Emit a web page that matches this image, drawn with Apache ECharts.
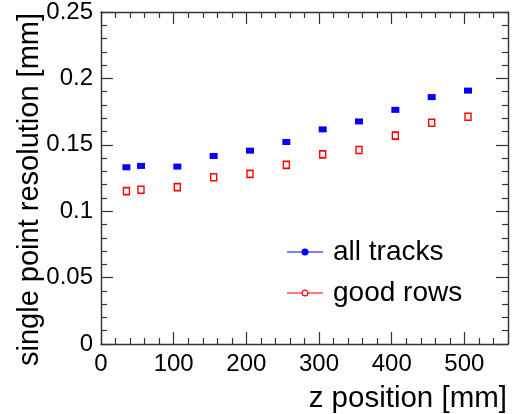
<!DOCTYPE html>
<html>
<head>
<meta charset="utf-8">
<script src="https://cdn.jsdelivr.net/npm/echarts@6/dist/echarts.min.js"></script>
<style>html,body{margin:0;padding:0;background:#fff}#c{width:514px;height:414px}</style>
</head>
<body>
<div id="c"></div>
<script>
var zPositions = [35, 55, 105, 155, 205, 255, 305, 355, 405, 455, 505];
var allTracks = [0.1331, 0.1341, 0.1336, 0.1416, 0.1456, 0.1521, 0.1616, 0.1676, 0.1763, 0.1859, 0.1908];
var goodRows = [0.1151, 0.1162, 0.1181, 0.1256, 0.1281, 0.1349, 0.1428, 0.1461, 0.1569, 0.1666, 0.1711];
var seriesNames = ['all tracks', 'good rows'];
var xTitle = 'z position [mm]';
var yTitle = 'single point resolution [mm]';

var FONT = '"Liberation Sans", Arial, Helvetica, sans-serif';
var AX = '#333';

function pairs(xs, ys) { return xs.map(function (x, i) { return [x, ys[i]]; }); }

var iconBlue = 'path://M0,3.4L15,3.4L15,4.6L0,4.6Z M21,3.4L36,3.4L36,4.6L21,4.6Z M18,0.5A3.5,3.5 0 1,1 18,7.5A3.5,3.5 0 1,1 18,0.5Z';
var iconRed = 'path://M0,3.4L14.6,3.4L14.6,4.6L0,4.6Z M21.4,3.4L36,3.4L36,4.6L21.4,4.6Z M18,0.5A3.5,3.5 0 1,1 18,7.5A3.5,3.5 0 1,1 18,0.5Z M18,1.7A2.3,2.3 0 1,0 18,6.3A2.3,2.3 0 1,0 18,1.7Z';

function axisCommon() {
  return {
    axisLine: { show: true, onZero: false, lineStyle: { color: AX, width: 1.4 } },
    axisTick: { show: true, inside: true, length: 12, lineStyle: { color: AX, width: 1.2 } },
    minorTick: { show: true, splitNumber: 5, length: 6, lineStyle: { color: AX, width: 1.2 } },
    splitLine: { show: false },
    minorSplitLine: { show: false }
  };
}

var chart = echarts.init(document.getElementById('c'), null, { renderer: 'canvas' });
var option = {
  animation: false,
  backgroundColor: '#fff',
  grid: { left: 101, top: 11, right: 6, bottom: 70, containLabel: false },
  legend: {
    orient: 'vertical',
    left: 287,
    top: 238,
    padding: 0,
    itemWidth: 36,
    itemHeight: 7,
    itemGap: 13,
    selectedMode: false,
    textStyle: { fontFamily: FONT, fontSize: 28, color: '#000', padding: [0, 0, 0, 5] },
    data: [
      { name: seriesNames[0], icon: iconBlue, itemStyle: { color: '#0000ff', borderWidth: 0, opacity: 1 } },
      { name: seriesNames[1], icon: iconRed, itemStyle: { color: '#ff0000', borderWidth: 0, opacity: 1 } }
    ]
  },
  xAxis: [
    Object.assign({
      type: 'value', position: 'bottom', min: 0, max: 560, interval: 100,
      name: xTitle, nameLocation: 'end', nameGap: -1, nameMoveOverlap: false,
      nameTextStyle: { fontFamily: FONT, fontSize: 29.5, color: '#000', align: 'right', verticalAlign: 'top', padding: [40, 0, 0, 0] },
      axisLabel: { show: true, margin: 8, fontFamily: FONT, fontSize: 24, color: '#000', showMaxLabel: false }
    }, axisCommon()),
    Object.assign({
      type: 'value', position: 'top', min: 0, max: 560, interval: 100,
      axisLabel: { show: false }
    }, axisCommon())
  ],
  yAxis: [
    Object.assign({
      type: 'value', position: 'left', min: 0, max: 0.25, interval: 0.05,
      name: yTitle, nameLocation: 'end', nameGap: -1, nameRotate: 90, nameMoveOverlap: false,
      nameTextStyle: { fontFamily: FONT, fontSize: 29, color: '#000', align: 'right', verticalAlign: 'bottom', padding: [0, 0, 57, 0] },
      axisLabel: { show: true, margin: 8, fontFamily: FONT, fontSize: 24, color: '#000', padding: [7, 0, 0, 0] }
    }, axisCommon()),
    Object.assign({
      type: 'value', position: 'right', min: 0, max: 0.25, interval: 0.05,
      axisLabel: { show: false }
    }, axisCommon())
  ],
  series: [
    {
      name: seriesNames[0], type: 'scatter', xAxisIndex: 0, yAxisIndex: 0,
      symbol: 'rect', symbolSize: [8, 6],
      itemStyle: { color: '#0000ff', opacity: 1 },
      data: pairs(zPositions, allTracks)
    },
    {
      name: seriesNames[1], type: 'scatter', xAxisIndex: 0, yAxisIndex: 0,
      symbol: 'rect', symbolSize: [6, 7],
      itemStyle: { color: '#ffffff', borderColor: '#ff0000', borderWidth: 1.5, opacity: 1 },
      data: pairs(zPositions, goodRows)
    }
  ]
};
chart.setOption(option);
</script>
</body>
</html>
